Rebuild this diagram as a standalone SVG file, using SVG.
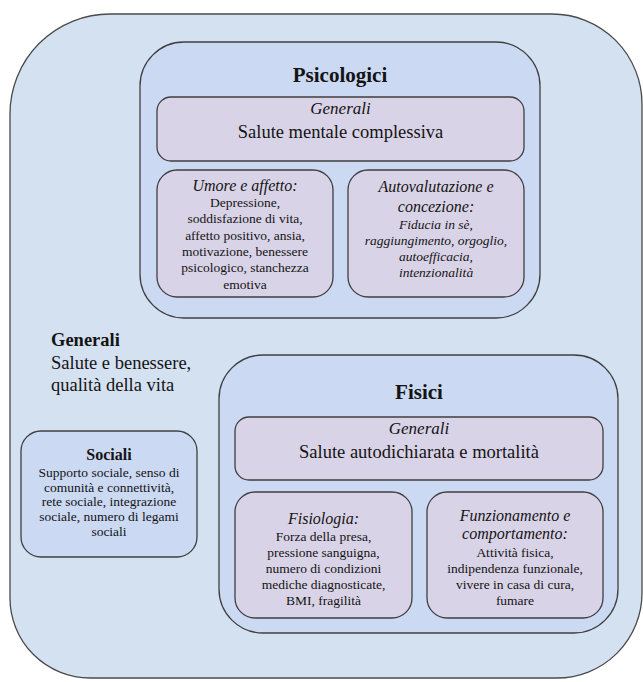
<svg xmlns="http://www.w3.org/2000/svg" width="643" height="682" viewBox="0 0 643 682">
  <style>
    .outer { fill: #d4e1f1; stroke: #4a4a4a; stroke-width: 1.3; }
    .group { fill: #cbd9f3; stroke: #3f3f3f; stroke-width: 1.3; }
    .item { fill: #d9d3e7; stroke: #3f3f3f; stroke-width: 1.3; }
    text { font-family: "Liberation Serif", "Times New Roman", serif; fill: #141414; text-anchor: middle; }
    .title { font-size: 21px; font-weight: bold; }
    .sub { font-size: 17px; font-style: italic; }
    .big { font-size: 18.5px; }
    .head { font-size: 16px; font-style: italic; }
    .body { font-size: 13.5px; }
    .ibody { font-size: 13.5px; font-style: italic; }
  </style>

  <!-- overall well-being frame -->
  <g id="benessere">
    <path class="outer" d="M110,14 H552 A90,90 0 0 1 642,104 V593 A85,85 0 0 1 557,678 H90 A80,80 0 0 1 10,598 V114 A100,100 0 0 1 110,14 Z"/>
    <text x="51" y="346" style="text-anchor:start;font-size:18.5px;font-weight:bold">Generali</text>
    <text x="51" y="369" class="big" style="text-anchor:start">Salute e benessere,</text>
    <text x="51" y="391" class="big" style="text-anchor:start">qualità della vita</text>
  </g>

  <!-- psychological factors -->
  <g id="psicologici">
    <rect class="group" x="140" y="42" width="400" height="276" rx="44"/>
    <text x="340" y="82" class="title">Psicologici</text>
  </g>
  <g id="psico-generali">
    <rect class="item" x="157" y="97" width="367" height="64" rx="14"/>
    <text x="340.5" y="114" class="sub">Generali</text>
    <text x="340.5" y="138" class="big">Salute mentale complessiva</text>
  </g>
  <g id="umore">
    <rect class="item" x="157" y="170" width="176" height="127" rx="20"/>
    <text x="245" y="191" class="head">Umore e affetto:</text>
    <text x="245" y="207" class="body">Depressione,</text>
    <text x="245" y="223.3" class="body">soddisfazione di vita,</text>
    <text x="245" y="239.6" class="body">affetto positivo, ansia,</text>
    <text x="245" y="255.9" class="body">motivazione, benessere</text>
    <text x="245" y="272.2" class="body">psicologico, stanchezza</text>
    <text x="245" y="288.5" class="body">emotiva</text>
  </g>
  <g id="autovalutazione">
    <rect class="item" x="348" y="170" width="176" height="127" rx="20"/>
    <text x="436" y="192" class="head">Autovalutazione e</text>
    <text x="436" y="212" class="head">concezione:</text>
    <text x="436" y="229" class="ibody">Fiducia in sè,</text>
    <text x="436" y="245" class="ibody">raggiungimento, orgoglio,</text>
    <text x="436" y="261" class="ibody">autoefficacia,</text>
    <text x="436" y="277" class="ibody">intenzionalità</text>
  </g>

  <!-- physical factors -->
  <g id="fisici">
    <rect class="group" x="219" y="355" width="399" height="278" rx="44"/>
    <text x="419" y="399" class="title">Fisici</text>
  </g>
  <g id="fisici-generali">
    <rect class="item" x="235" y="417" width="368" height="63" rx="14"/>
    <text x="419" y="434" class="sub">Generali</text>
    <text x="419" y="458" class="big">Salute autodichiarata e mortalità</text>
  </g>
  <g id="fisiologia">
    <rect class="item" x="235" y="492" width="177" height="126" rx="20"/>
    <text x="323.5" y="524" class="head">Fisiologia:</text>
    <text x="323.5" y="541" class="body">Forza della presa,</text>
    <text x="323.5" y="557" class="body">pressione sanguigna,</text>
    <text x="323.5" y="573" class="body">numero di condizioni</text>
    <text x="323.5" y="589" class="body">mediche diagnosticate,</text>
    <text x="323.5" y="605" class="body">BMI, fragilità</text>
  </g>
  <g id="funzionamento">
    <rect class="item" x="427" y="492" width="176" height="126" rx="20"/>
    <text x="515" y="521" class="head">Funzionamento e</text>
    <text x="515" y="539" class="head">comportamento:</text>
    <text x="515" y="557" class="body">Attività fisica,</text>
    <text x="515" y="573" class="body">indipendenza funzionale,</text>
    <text x="515" y="589" class="body">vivere in casa di cura,</text>
    <text x="515" y="605" class="body">fumare</text>
  </g>

  <!-- social factors -->
  <g id="sociali">
    <rect class="group" x="21" y="431" width="176" height="126" rx="20"/>
    <text x="109" y="460" style="font-size:16px;font-weight:bold">Sociali</text>
    <text x="109" y="476.5" class="body">Supporto sociale, senso di</text>
    <text x="109" y="491.5" class="body">comunità e connettività,</text>
    <text x="109" y="506" class="body">rete sociale, integrazione</text>
    <text x="109" y="521" class="body">sociale, numero di legami</text>
    <text x="109" y="536" class="body">sociali</text>
  </g>

  <!-- no connectors in this figure -->
  <g id="connectors"></g>
</svg>
